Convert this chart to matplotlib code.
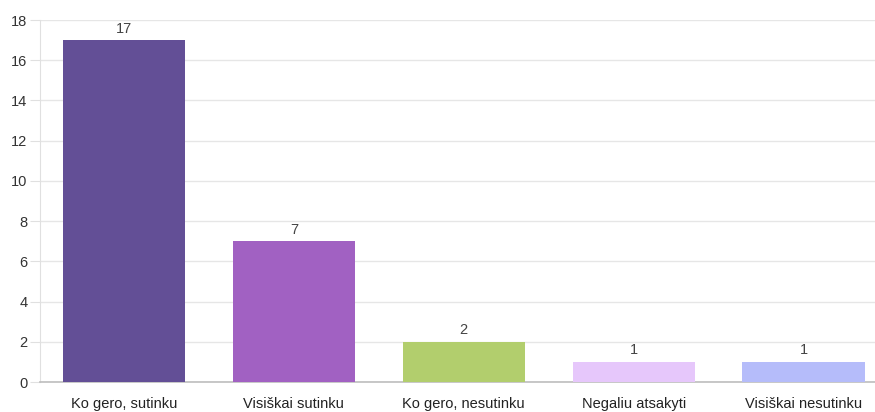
import matplotlib
matplotlib.use("Agg")
import matplotlib.pyplot as plt

categories = ["Ko gero, sutinku", "Visiškai sutinku", "Ko gero, nesutinku",
              "Negaliu atsakyti", "Visiškai nesutinku"]
values = [17, 7, 2, 1, 1]
colors = ["#634f96", "#a161c2", "#b2ce6d", "#e6c7fb", "#b5bcfa"]
yticks = [0, 2, 4, 6, 8, 10, 12, 14, 16, 18]

plt.rcParams['font.family'] = ['Liberation Sans', 'DejaVu Sans']

fig = plt.figure(figsize=(8.75, 4.12), dpi=100)
ax = fig.add_axes([40 / 875, 30 / 412, 835 / 875, 362 / 412])

x = list(range(len(categories)))
ax.bar(x, values, width=0.72, color=colors, zorder=3)

for xi, v in zip(x, values):
    ax.text(xi, v + 0.22, str(v), ha='center', va='bottom', fontsize=10.5, color='#444444')

ax.set_xlim(-0.494, 4.42)
ax.set_ylim(0, 18)
ax.set_yticks(yticks)
ax.set_xticks(x)
ax.set_xticklabels(categories, va='baseline')
ax.grid(axis='y', color='#e6e6e6', linewidth=1, zorder=0)

ax.tick_params(axis='y', length=7, color='#e0e0e0', labelsize=10.5, labelcolor='#333333', pad=2)
ax.tick_params(axis='x', length=0, labelsize=10.5, labelcolor='#222222', pad=19)

for side in ['top', 'right']:
    ax.spines[side].set_visible(False)
ax.spines['left'].set_color('#e0e0e0')
ax.spines['bottom'].set_color('#bdbdbd')
ax.spines['bottom'].set_linewidth(1.2)

fig.savefig("out.png", dpi=100)
